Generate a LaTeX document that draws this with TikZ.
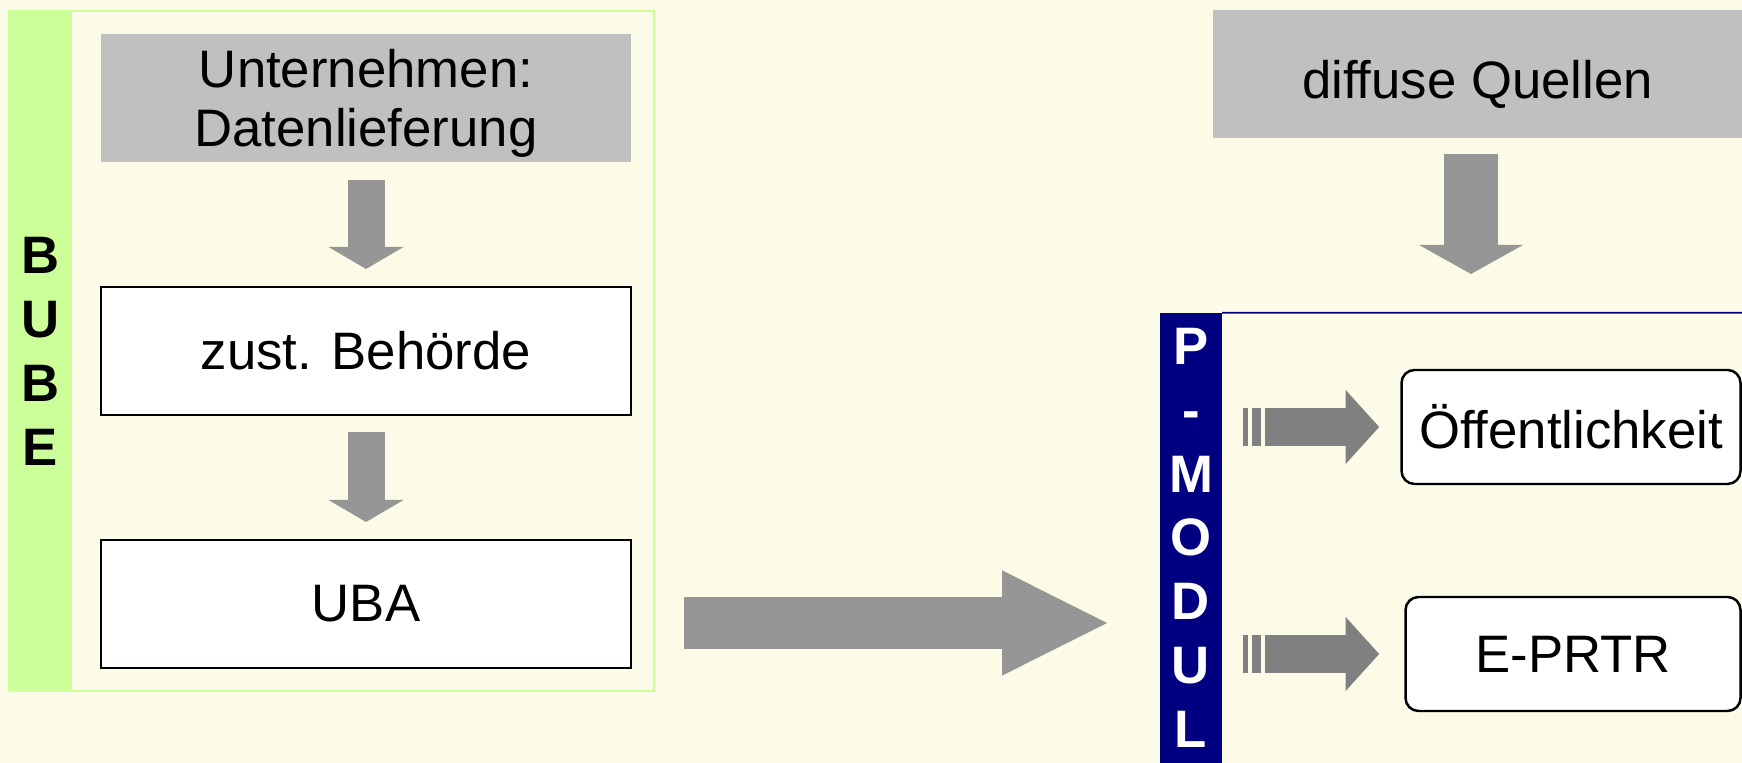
\documentclass[tikz,border=0pt]{standalone}
\usepackage{fontspec}
\setmainfont{Liberation Sans}
\usetikzlibrary{arrows.meta,calc}

\definecolor{cream}{HTML}{FCFBE7}
\definecolor{bubegreen}{HTML}{CCFF99}
\definecolor{boxgray}{HTML}{C0C0C0}
\definecolor{arrowgray}{HTML}{969696}
\definecolor{stripegray}{HTML}{808080}
\definecolor{navy}{HTML}{000080}

\tikzset{
  txt/.style={font=\fontsize{15}{17}\selectfont},
  graybox/.style={txt, fill=boxgray, minimum width=5.30cm, minimum height=1.28cm, align=center, inner sep=0pt, outer sep=0pt, text depth=0pt},
  whitebox/.style={txt, draw=black, line width=0.6pt, fill=white, minimum width=5.30cm, minimum height=1.28cm, outer sep=0pt},
  roundbox/.style={txt, draw=black, line width=0.7pt, fill=white, rounded corners=0.13cm, minimum height=1.14cm, outer sep=0pt},
  sidebar/.style={font=\fontsize{15}{18.2}\selectfont\bfseries, align=center, inner sep=0pt, outer sep=0pt},
  blockarrow/.style n args={3}{draw=arrowgray, line width=#1, -{Triangle[length=#2, width=#3, line width=0pt]}},
  stripedarrow/.style={blockarrow={0.383cm}{0.336cm}{0.743cm}, draw=stripegray, dash pattern=on 0.5mm off 0.4mm on 0.84mm off 0.43mm on 5cm off 0mm}
}

\begin{document}
\begin{tikzpicture}
\useasboundingbox (0,0) rectangle (17.42,7.63);
\fill[cream] (0,0) rectangle (17.42,7.63);
% BUBE
\node[draw=bubegreen, line width=0.5pt, minimum width=6.45cm, minimum height=6.80cm, inner sep=0pt, outer sep=0pt] (bubeframe) at (3.315,4.12) {};
\node[sidebar, fill=bubegreen, minimum width=0.63cm, minimum height=6.80cm, anchor=north west] (bube) at (bubeframe.north west) {B\\U\\B\\E};
\node[graybox] (firm) at (3.66,6.65) {Unternehmen:\\Datenlieferung};
\node[whitebox] (authority) at (3.66,4.12) {zust. Behörde};
\node[whitebox] (uba) at (3.66,1.59) {UBA};
\draw[blockarrow={0.37cm}{0.22cm}{0.75cm}, shorten <=0.18cm, shorten >=0.18cm] (firm) -- (authority);
\draw[blockarrow={0.37cm}{0.22cm}{0.75cm}, shorten <=0.17cm, shorten >=0.18cm] (authority) -- (uba);
% P-Modul
\node[graybox, minimum width=5.29cm, text height=0.5cm] (diffuse) at (14.775,6.89) {diffuse Quellen};
\node[sidebar, fill=navy, text=white, minimum width=0.62cm, minimum height=4.503cm, anchor=south west] (pmodul) at (11.60,0) {P\\-\\M\\O\\D\\U\\L};
\coordinate (rightedge) at (17.42,4.503);
\draw[navy, line width=0.5pt] (pmodul.north east) -- (rightedge);
\draw[blockarrow={0.535cm}{0.29cm}{1.04cm}, shorten <=0.16cm, shorten >=0.387cm] ([xshift=-0.065cm]diffuse.south) -- ([xshift=-0.065cm]diffuse.south |- pmodul.north);
\coordinate (handover) at (bubeframe.east |- 0,1.40);
\draw[blockarrow={0.526cm}{1.05cm}{1.053cm}, shorten <=0.30cm, shorten >=0.53cm] (handover) -- (handover -| pmodul.west);
\node[roundbox, minimum width=3.39cm] (public) at (15.71,3.36) {Öffentlichkeit};
\node[roundbox, minimum width=3.35cm] (eprtr) at (15.73,1.09) {E-PRTR};
\draw[stripedarrow, shorten <=0.213cm, shorten >=0.224cm] (pmodul.east |- public) -- (public.west);
\draw[stripedarrow, shorten <=0.213cm, shorten >=0.264cm] (pmodul.east |- eprtr) -- (eprtr.west);
\end{tikzpicture}
\end{document}
